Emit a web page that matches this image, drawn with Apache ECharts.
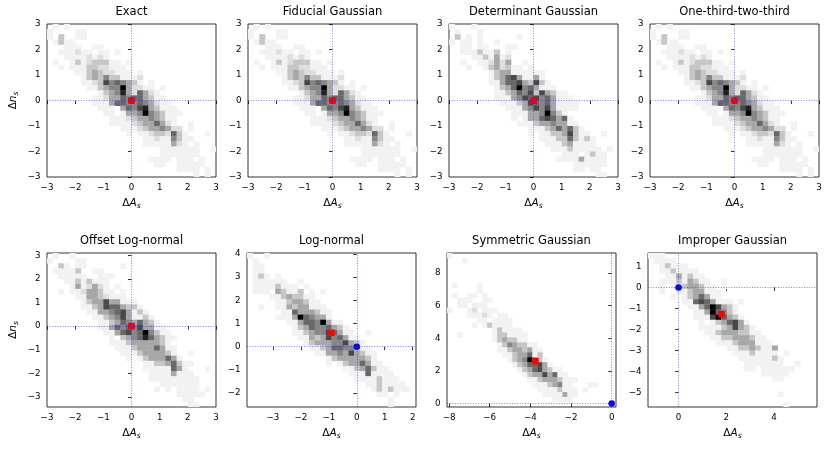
<!DOCTYPE html>
<html>
<head>
<meta charset="utf-8">
<script src="https://cdn.jsdelivr.net/npm/echarts@6/dist/echarts.min.js"></script>
<style>html,body{margin:0;padding:0;background:#fff;}#c{width:830px;height:449px;}</style>
</head>
<body>
<div id="c"></div>
<script>
// ---------- data ----------
const titles = ['Exact', 'Fiducial Gaussian', 'Determinant Gaussian', 'One-third-two-third',
  'Offset Log-normal', 'Log-normal', 'Symmetric Gaussian', 'Improper Gaussian'];

// axis limits
const xLimits = [[-3, 3], [-3, 3], [-3, 3], [-3, 3], [-3, 3], [-3.93, 2.12], [-8.1, 0.21], [-1.28, 5.8]];
const yLimits = [[-3, 3], [-3, 3], [-3, 3], [-3, 3], [-3.43, 3.1], [-2.6, 4.04], [-0.21, 9.23], [-5.69, 1.64]];

// tick labels
const xTicks = [[-3, -2, -1, 0, 1, 2, 3], [-3, -2, -1, 0, 1, 2, 3], [-3, -2, -1, 0, 1, 2, 3], [-3, -2, -1, 0, 1, 2, 3],
  [-3, -2, -1, 0, 1, 2, 3], [-3, -2, -1, 0, 1, 2], [-8, -6, -4, -2, 0], [0, 2, 4]];
const yTicks = [[-3, -2, -1, 0, 1, 2, 3], [-3, -2, -1, 0, 1, 2, 3], [-3, -2, -1, 0, 1, 2, 3], [-3, -2, -1, 0, 1, 2, 3],
  [-3, -2, -1, 0, 1, 2, 3], [-2, -1, 0, 1, 2, 3, 4], [0, 2, 4, 6, 8], [-5, -4, -3, -2, -1, 0, 1]];

// histogram bin ranges (30 x 30 bins)
const binX = [[-3, 3], [-3, 3], [-3, 3], [-3, 3], [-3, 3], [-3.93, 2.12], [-8.1, -0.7], [-1.28, 5.8]];
const binY = [[-3, 3], [-3, 3], [-3, 3], [-3, 3], [-3.43, 3.1], [-2.6, 4.04], [0.1, 9.23], [-5.69, 1.64]];

// estimated point (red) and true point (blue)
const estimates = [[0, 0], [0, 0], [0, 0], [0, 0], [0, 0], [-0.91, 0.6], [-3.75, 2.6], [1.8, -1.27]];
const truths = [[0, 0], [0, 0], [0, 0], [0, 0], [0, 0], [0, 0], [0, 0], [0, 0]];

// 2D histogram shade levels (0 empty .. 9 darkest), rows from top (max y) to bottom
const gridExact = [
  "010100000000000000000000000000",
  "100001100000000000000000000000",
  "103001100000000000000000000000",
  "013110000000000000000000000000",
  "000111001100000000000000000000",
  "001112110110100000000000000000",
  "000111121210000000000000000000",
  "010013123331101000000000000000",
  "001011133221110000000000000000",
  "000001134322111010000000000000",
  "000000134353311120000000000000",
  "000000112375654310100000000000",
  "000000011345594221101000000000",
  "000000000134584264210000000000",
  "000000001124465664311000000000",
  "000000001114665565421100000000",
  "000000000111046578431110000000",
  "000000000011014459543111000000",
  "000000000001112344543110000000",
  "000000000001111234464210010000",
  "000000000000011123445422010000",
  "000000000000001011233263100010",
  "000000000000000001121153110000",
  "000000000000000001111142101000",
  "000000000000000000001111111001",
  "000000000000000000001111111000",
  "000000000000000000111101110100",
  "000000000000000000011001111100",
  "000000000000000000000001111010",
  "000000000000000000000000001010"
];
const gridDeterminant = [
  "100010000000000000000000000000",
  "010001000000000000000000000000",
  "030101000000100000000000000000",
  "101101001000000000000000000000",
  "001101100011000000000000000000",
  "001113113010000000000000000000",
  "000011314120000000000000000000",
  "001001124240010000000000000000",
  "000100134231101000000000000000",
  "000000013441111110000000000000",
  "000000013467411410000000000000",
  "000000011466743731000000000000",
  "000000001346956411100000000000",
  "000000001134657374311000000000",
  "000000001114576756411100000000",
  "000000000111347656411110000000",
  "000000000011145757411110000000",
  "000000000001114459531000000000",
  "000000000001014467646100000000",
  "000000000000111344544110000000",
  "000000000000001113464631000000",
  "000000000000001011334731100100",
  "000000000000000011133631310000",
  "000000000000000001113411110000",
  "000000000000000000111311111010",
  "000000000000000000001110131100",
  "000000000000000000011114111100",
  "000000000000000000000011111100",
  "000000000000000000000011011000",
  "000000000000000000000000001100"
];
const gridOffset = [
  "010010000000000000000000000000",
  "100001100000000000000000000000",
  "003101100000010000000000000000",
  "011113001100000000000000000000",
  "001111100111000000000000000000",
  "000113131110000000000000000000",
  "000014124210100000000000000000",
  "001011244311010000000000000000",
  "000001144321110000000000000000",
  "000000134474411100000000000000",
  "000000113476643310000000000000",
  "000000011445674131000000000000",
  "000000001134574113100000000000",
  "000000000113465464310000000000",
  "000000000114656574411000000000",
  "000000000011467569531100000000",
  "000000000001034568643110000000",
  "000000000001113444443100000000",
  "000000000000111344464110000000",
  "000000000000011134444310010000",
  "000000000000001013444641000000",
  "000000000000000001133463110000",
  "000000000000000001111164100010",
  "000000000000000000111141110000",
  "000000000000000000111111111000",
  "000000000000000000001111111000",
  "000000000000000000010101111010",
  "000000000000000000000001111100",
  "000000000000000000000000110000",
  "000000000000000000000000011000"
];
const gridLogNormal = [
  "100100000000000000000000000000",
  "010000000000000000000000000000",
  "011000000000000000000000000000",
  "011000000000000000000000000000",
  "013101000000000000000000000000",
  "011111100100000000000000000000",
  "011113111010000000000000000000",
  "011104311301010000000000000000",
  "000011343311000000000000000000",
  "000001134431100000000000000000",
  "001001143441110000000000000000",
  "000000116444311000000000000000",
  "000001114965441000000000000000",
  "000000011466594110000000000000",
  "000000001346556431000000000000",
  "000000001134557641100100000000",
  "000000000114347564110000000000",
  "000000000013444557431000000000",
  "000000000001134665531100000000",
  "000000000000114454743110000000",
  "000000000000001344444310000000",
  "000000000000001013446411000000",
  "000000000000000001134631100000",
  "000000000000000000111611110000",
  "000000000000000000011113111000",
  "000000000000000000000113111100",
  "000000000000000000000013131110",
  "000000000000000000000001101000",
  "000000000000000000000000010000",
  "000000000000000000000000010000"
];
const gridSymmetric = [
  "100000000000000000000000000000",
  "000100000000000000000000000000",
  "000000000000000000000000000000",
  "000000000000000000000000000000",
  "000000000000000000000000000000",
  "000000000000000000000000000000",
  "010000100000000000000000000000",
  "000000100000000000000000000000",
  "010011010000000000000000000000",
  "001110011000000000000000000000",
  "001101110000000000000000000000",
  "100012011100000000000000000000",
  "000011121011000000000000000000",
  "000000110111100000000000000000",
  "000001013111100000000000000000",
  "000000000131111000000000000000",
  "001000000133111100000000000000",
  "000000000134331100000000000000",
  "000000000013543311000000000000",
  "000000000011344341100000000000",
  "000000000001134461300000000000",
  "000000000000134595310000000000",
  "000000000000013466741000000000",
  "000000000000001346743110000000",
  "000000000000000134474611000000",
  "000000000000000011344431110000",
  "000000000000000001113451100011",
  "000000000000000000111131110100",
  "000000000000000000011114110000",
  "000000000000000000000111100000"
];
const gridImproper = [
  "111000000000000000000000000000",
  "011110000000000000000000000000",
  "001311100000000000000000000000",
  "001131111000000000000000000000",
  "000114131100000000000000000000",
  "001113143110010000000000000000",
  "001011344311010000000000000000",
  "001001134411100000000000000000",
  "000010134641100000000000000000",
  "000000116764111010000000000000",
  "000000011469743100000000000000",
  "000000001149653100000000000000",
  "000000001117964310000000000000",
  "000000000101346741000000000000",
  "000000000111134743100000000000",
  "000000000011344433110000000000",
  "000000000001133444311000000000",
  "000000000000111344411100000000",
  "000000000000001133431140000000",
  "000000000000000111311110100000",
  "000000000000000011111131000000",
  "000000000000000001111111001000",
  "000000000000000001101111110000",
  "000000000000000000001111100000",
  "000000000000000000000011000000",
  "000000000000000000000000000000",
  "000000000000000000000000000000",
  "000000000000000000000001000000",
  "000000000000000000000000000000",
  "000000000000000000000000100000"
];
const panelGrids = [gridExact, gridExact, gridDeterminant, gridExact, gridOffset, gridLogNormal, gridSymmetric, gridImproper];

// ---------- layout / style ----------
const lefts = [47, 248, 449, 650, 47, 247, 447, 648];
const tops = [24, 24, 24, 24, 253, 253, 253, 253];
const W = 169, Hs = [153, 153, 153, 153, 154, 154, 154, 154];
const FONT = 'DejaVu Sans';

const greyStops = [255, 240, 217, 189, 150, 115, 82, 37, 0];
function greys(level) {
  const t = Math.max(0, Math.min(1, level / 9)) * 8;
  const i = Math.min(7, Math.floor(t));
  const f = t - i;
  const g = Math.round(greyStops[i] + (greyStops[i + 1] - greyStops[i]) * f);
  return 'rgb(' + g + ',' + g + ',' + g + ')';
}
function cellsFrom(grid, bx, by) {
  const rows = grid.length, cols = grid[0].length;
  const dx = (bx[1] - bx[0]) / cols, dy = (by[1] - by[0]) / rows;
  const out = [];
  for (let r = 0; r < rows; r++) {
    for (let c = 0; c < grid[r].length; c++) {
      const lv = +grid[r][c];
      if (!lv) continue;
      const x0 = bx[0] + c * dx, y1 = by[1] - r * dy;
      out.push([x0, y1 - dy, x0 + dx, y1, lv]);
    }
  }
  return out;
}
function renderCell(params, api) {
  const p0 = api.coord([api.value(0), api.value(3)]);
  const p1 = api.coord([api.value(2), api.value(1)]);
  return {
    type: 'rect',
    shape: { x: p0[0], y: p0[1], width: p1[0] - p0[0] + 0.4, height: p1[1] - p0[1] + 0.4 },
    style: { fill: greys(api.value(4)) }
  };
}
const minus = v => String(v).replace('-', '\u2212');
const richLbl = {
  d: { fontFamily: FONT, fontSize: 10.5, color: '#000' },
  i: { fontFamily: FONT, fontSize: 10.5, fontStyle: 'italic', color: '#000' },
  s: { fontFamily: FONT, fontSize: 7.5, fontStyle: 'italic', color: '#000', padding: [5, 0, 0, 0] }
};

const grid = [], xAxis = [], yAxis = [], series = [], title = [];
for (let k = 0; k < 8; k++) {
  grid.push({ left: lefts[k], top: tops[k], width: W, height: Hs[k], show: true,
    borderColor: '#000', borderWidth: 0.8, backgroundColor: 'transparent' });
  title.push({ text: titles[k], left: lefts[k] + W / 2, top: tops[k] - 18, textAlign: 'center', padding: 0,
    textStyle: { fontFamily: FONT, fontSize: 11.5, fontWeight: 'normal', color: '#000' } });
  xAxis.push({ type: 'value', gridIndex: k, min: xLimits[k][0], max: xLimits[k][1],
    name: '{d|\u0394}{i|A}{s|s}', nameLocation: 'middle', nameGap: 20,
    nameTextStyle: { rich: richLbl },
    axisLine: { show: false }, splitLine: { show: false },
    axisTick: { show: true, length: 3.5, lineStyle: { color: '#000', width: 0.8 }, customValues: xTicks[k] },
    axisLabel: { show: true, customValues: xTicks[k], formatter: minus, margin: 6.5,
      fontFamily: FONT, fontSize: 8.7, color: '#000' } });
  yAxis.push({ type: 'value', gridIndex: k, min: yLimits[k][0], max: yLimits[k][1],
    name: (k === 0 || k === 4) ? '{d|\u0394}{i|n}{s|s}' : '', nameLocation: 'middle', nameGap: 27,
    nameTextStyle: { rich: richLbl },
    axisLine: { show: false }, splitLine: { show: false },
    axisTick: { show: true, length: 3.5, lineStyle: { color: '#000', width: 0.8 }, customValues: yTicks[k] },
    axisLabel: { show: true, customValues: yTicks[k], formatter: minus, margin: 6.5,
      fontFamily: FONT, fontSize: 8.7, color: '#000' } });
  series.push({ type: 'custom', xAxisIndex: k, yAxisIndex: k, renderItem: renderCell, clip: true,
    encode: { x: [0, 2], y: [1, 3] }, data: cellsFrom(panelGrids[k], binX[k], binY[k]), z: 1, silent: true });
  series.push({ type: 'scatter', xAxisIndex: k, yAxisIndex: k, data: [truths[k]], symbol: 'circle', symbolSize: 6.5,
    itemStyle: { color: '#0000ff', opacity: 1 }, z: 3, silent: true,
    markLine: { silent: true, symbol: ['none', 'none'], label: { show: false }, animation: false,
      lineStyle: { color: 'rgba(40,40,255,0.75)', width: 0.8, type: [1, 1.6] },
      data: [{ xAxis: truths[k][0] }, { yAxis: truths[k][1] }] } });
  series.push({ type: 'scatter', xAxisIndex: k, yAxisIndex: k, data: [estimates[k]], symbol: 'rect', symbolSize: 6.5,
    itemStyle: { color: '#ff0000', opacity: 1 }, z: 4, silent: true });
}

const chart = echarts.init(document.getElementById('c'), null, { renderer: 'canvas' });
chart.setOption({ animation: false, backgroundColor: '#fff', title, grid, xAxis, yAxis, series });
</script>
</body>
</html>
